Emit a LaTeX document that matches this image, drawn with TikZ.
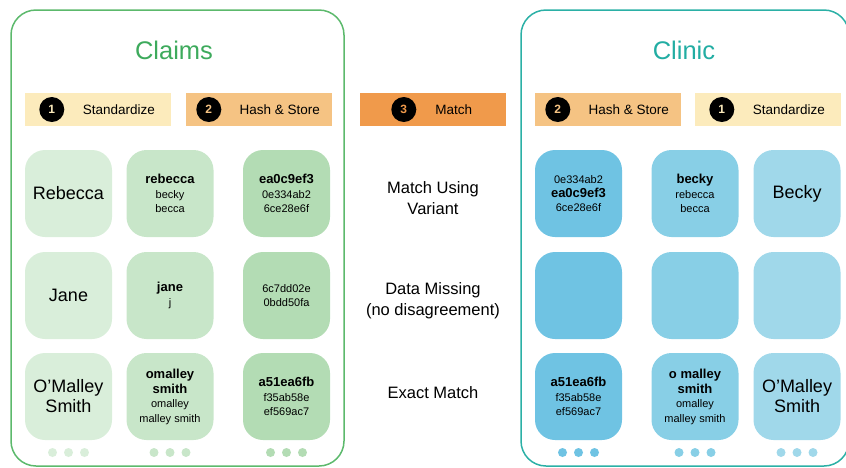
\documentclass[tikz,border=0pt]{standalone}
\usepackage{fontspec}
\setmainfont{Liberation Sans}

\definecolor{claimsline}{HTML}{5CB96C}
\definecolor{claimstitle}{HTML}{3DAA5C}
\definecolor{clinicline}{HTML}{2BB0A6}
\definecolor{clinictitle}{HTML}{22ADA3}
\definecolor{stdfill}{HTML}{FCEBBC}
\definecolor{hashfill}{HTML}{F5C383}
\definecolor{matchfill}{HTML}{F09A4B}
\definecolor{gA}{HTML}{D9EEDA}
\definecolor{gB}{HTML}{C8E6C9}
\definecolor{gC}{HTML}{B3DCB4}
\definecolor{bA}{HTML}{6FC3E3}
\definecolor{bB}{HTML}{88CFE6}
\definecolor{bC}{HTML}{A0D8EA}

\newcommand\namefont{\fontsize{18}{20}\selectfont}
\newcommand\keyfont{\fontsize{13}{14.3}\selectfont\bfseries}
\newcommand\altfont{\fontsize{11}{14.3}\selectfont}

\tikzset{
  panel/.style={line width=1.5pt, rounded corners=25},
  stepbar/.style={minimum width=146, minimum height=33, inner sep=0},
  stepnum/.style={circle, fill=black, minimum size=25, inner sep=0,
    font=\fontsize{12}{12}\selectfont\bfseries},
  steptext/.style={font=\fontsize{13.5}{14}\selectfont},
  card/.style={rounded corners=20, minimum width=87, minimum height=87,
    inner sep=0, align=center, font=\altfont},
  midlabel/.style={align=center, font=\fontsize{16.5}{21}\selectfont},
}

\begin{document}
\begin{tikzpicture}[x=1pt, y=-1pt]
  \useasboundingbox (0,0) rectangle (846,467);

  % the two sides
  \draw[panel, claimsline] (11,10) rectangle (344,466);
  \draw[panel, clinicline] (521,10) rectangle (849,466);
  \node[text=claimstitle, font=\fontsize{25.5}{27}\selectfont] (claimsTitle) at (174,50) {Claims};
  \node[text=clinictitle, font=\fontsize{25.5}{27}\selectfont] (clinicTitle) at (684,50) {Clinic};

  % step bars
  \node[stepbar, fill=stdfill] (cStd) at (98,109.5) {};
  \node[stepnum, text=stdfill] (cStdNum) at ([xshift=27]cStd.west) {1};
  \node[steptext] (cStdTxt) at ([xshift=94]cStd.west) {Standardize};

  \node[stepbar, fill=hashfill] (cHash) at (259,109.5) {};
  \node[stepnum, text=hashfill] (cHashNum) at ([xshift=23]cHash.west) {2};
  \node[steptext] (cHashTxt) at ([xshift=94]cHash.west) {Hash \& Store};

  \node[stepbar, fill=matchfill] (match) at (433,109.5) {};
  \node[stepnum, text=matchfill] (matchNum) at ([xshift=44]match.west) {3};
  \node[steptext] (matchTxt) at ([xshift=94]match.west) {Match};

  \node[stepbar, fill=hashfill] (kHash) at (608,109.5) {};
  \node[stepnum, text=hashfill] (kHashNum) at ([xshift=23]kHash.west) {2};
  \node[steptext] (kHashTxt) at ([xshift=94]kHash.west) {Hash \& Store};

  \node[stepbar, fill=stdfill] (kStd) at (768,109.5) {};
  \node[stepnum, text=stdfill] (kStdNum) at ([xshift=27]kStd.west) {1};
  \node[steptext] (kStdTxt) at ([xshift=94]kStd.west) {Standardize};

  % claims cards
  \node[card, fill=gA, font=\namefont] (cName1) at (68.5,193.5) {Rebecca};
  \node[card, fill=gB] (cKey1) at (170,193.5) {{\keyfont rebecca}\\becky\\becca};
  \node[card, fill=gC] (cHash1) at (286.5,193.5) {{\keyfont ea0c9ef3}\\0e334ab2\\6ce28e6f};

  \node[card, fill=gA, font=\namefont] (cName2) at (68.5,295.5) {Jane};
  \node[card, fill=gB] (cKey2) at (170,295.5) {{\keyfont jane}\\j};
  \node[card, fill=gC] (cHash2) at (286.5,295.5) {6c7dd02e\\0bdd50fa};

  \node[card, fill=gA, font=\namefont] (cName3) at (68.5,396.5) {O’Malley\\Smith};
  \node[card, fill=gB] (cKey3) at (170,396.5) {{\keyfont omalley}\\[1pt]{\keyfont smith}\\omalley\\malley smith};
  \node[card, fill=gC] (cHash3) at (286.5,396.5) {{\keyfont a51ea6fb}\\f35ab58e\\ef569ac7};

  % clinic cards
  \node[card, fill=bA] (kHash1) at (578.5,193.5) {0e334ab2\\{\keyfont ea0c9ef3}\\6ce28e6f};
  \node[card, fill=bB] (kKey1) at (695,193.5) {{\keyfont becky}\\rebecca\\becca};
  \node[card, fill=bC, font=\namefont] (kName1) at (797,193.5) {Becky};

  \node[card, fill=bA] (kHash2) at (578.5,295.5) {};
  \node[card, fill=bB] (kKey2) at (695,295.5) {};
  \node[card, fill=bC] (kName2) at (797,295.5) {};

  \node[card, fill=bA] (kHash3) at (578.5,396.5) {{\keyfont a51ea6fb}\\f35ab58e\\ef569ac7};
  \node[card, fill=bB] (kKey3) at (695,396.5) {{\keyfont o malley}\\[1pt]{\keyfont smith}\\omalley\\malley smith};
  \node[card, fill=bC, font=\namefont] (kName3) at (797,396.5) {O’Malley\\Smith};

  % match results
  \node[midlabel] (res1) at (433,198.5) {Match Using\\Variant};
  \node[midlabel] (res2) at (433,300.5) {Data Missing\\(no disagreement)};
  \node[midlabel] (res3) at (433,393) {Exact Match};

  % more rows below
  \foreach \cx/\col in {68.5/gA, 170/gB, 286.5/gC, 578.5/bA, 695/bB, 797/bC}
    \foreach \dx in {-16,0,16}
      \fill[\col] (\cx+\dx,452.5) circle (4.5);
\end{tikzpicture}
\end{document}
